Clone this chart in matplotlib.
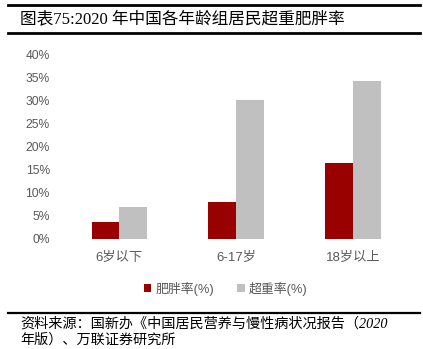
import numpy as np
import matplotlib
matplotlib.use("Agg")
import matplotlib.pyplot as plt
from matplotlib.lines import Line2D

plt.rcParams['font.family'] = ['Liberation Sans', 'Noto Sans CJK SC']

# data
groups = ['6岁以下', '6-17岁', '18岁以上']
obesity = [3.7, 8.0, 16.5]
overweight = [7.0, 30.2, 34.3]
series_names = ['肥胖率(%)', '超重率(%)']
yticks = [0, 5, 10, 15, 20, 25, 30, 35, 40]

red = '#990000'
grey = '#c0c0c0'

fig = plt.figure(figsize=(4.23, 3.49), dpi=100)
ax = fig.add_axes([0.144, 0.3152, 0.8286, 0.5292])

x = np.arange(len(groups))
w = 0.238
ax.bar(x - w / 2, obesity, w, color=red, label=series_names[0])
ax.bar(x + w / 2, overweight, w, color=grey, label=series_names[1])

ax.set_xlim(-0.5, 2.5)
ax.set_ylim(0, 40)
ax.set_yticks(yticks)
ax.set_yticklabels(['%d%%' % v for v in yticks])
ax.set_xticks(x)
ax.set_xticklabels(groups)
ax.tick_params(axis='y', length=0, pad=8, labelsize=8.7, labelcolor='#595959')
ax.tick_params(axis='x', length=0, pad=9, labelsize=9.5, labelcolor='#595959')
for s in ax.spines.values():
    s.set_visible(False)

ax.legend(loc='center', bbox_to_anchor=(0.47, -0.27), ncol=2, frameon=False,
          fontsize=9.3, handlelength=0.6, handleheight=0.6, handletextpad=0.3,
          columnspacing=1.8, labelcolor='#595959')

# title and rules
fig.add_artist(Line2D([8 / 423, 420 / 423], [1 - 5 / 349] * 2, color='black', lw=2))
fig.add_artist(Line2D([8 / 423, 420 / 423], [1 - 33 / 349] * 2, color='black', lw=2))
fig.add_artist(Line2D([8 / 423, 420 / 423], [1 - 313 / 349] * 2, color='black', lw=1.6))
fig.text(20 / 423, 1 - 19 / 349, '图表75:2020 年中国各年龄组居民超重肥胖率',
         fontsize=12, va='center', ha='left',
         family=['Liberation Serif', 'Noto Sans CJK SC'])
fig.text(20 / 423, 1 - 317 / 349,
         '资料来源：国新办《中国居民营养与慢性病状况报告（2020\n年版）、万联证券研究所',
         fontsize=10.2, va='top', ha='left', style='italic', linespacing=1.25,
         family=['Liberation Serif', 'Noto Sans CJK SC'])

fig.savefig('out.png', dpi=100)
